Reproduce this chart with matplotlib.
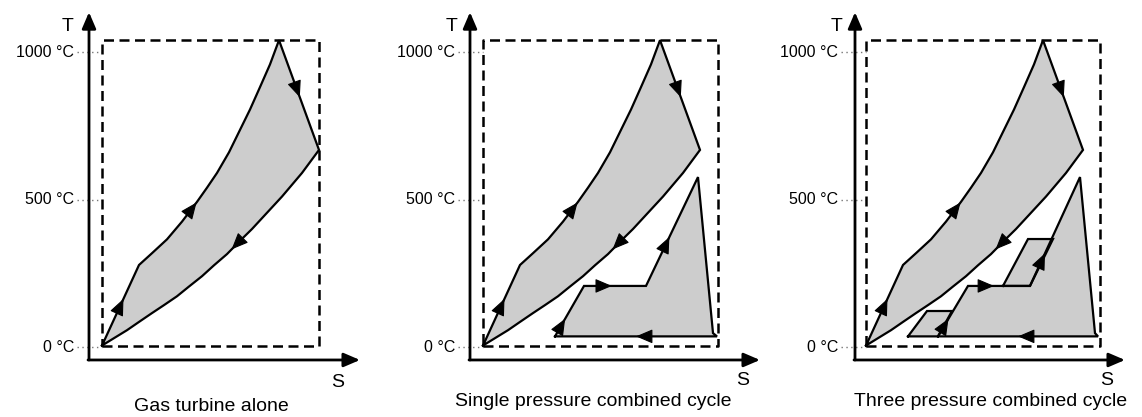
import matplotlib
matplotlib.use('Agg')
import matplotlib.pyplot as plt

# ---------------- data (s: entropy, arbitrary units; T: °C) ----------------
tick_values = [0, 500, 1000]
tick_labels = ['0 °C', '500 °C', '1000 °C']
panel_titles = ['Gas turbine alone', 'Single pressure combined cycle',
                'Three pressure combined cycle']

# Gas turbine (Brayton) cycle
comp_s = [0.00, 0.37]
comp_T = [5, 278]
heat_s = [0.37, 0.50, 0.65, 0.80, 0.95, 1.05, 1.15, 1.27, 1.38, 1.48, 1.58, 1.68, 1.77]
heat_T = [278, 318, 365, 425, 492, 540, 590, 660, 736, 805, 881, 958, 1040]
exp_s = [1.77, 2.17]
exp_T = [1040, 668]
cool_s = [2.17, 2.00, 1.80, 1.65, 1.50, 1.38, 1.25, 1.12, 1.00, 0.87, 0.75,
          0.62, 0.50, 0.37, 0.25, 0.12, 0.00]
cool_T = [668, 590, 510, 455, 400, 360, 315, 277, 240, 205, 172,
          142, 115, 85, 57, 30, 5]

# Single pressure steam cycle
sp_s = [0.72, 1.01, 1.63, 2.15, 2.30, 2.34]
sp_T = [36, 207, 207, 576, 47, 36]

# Three pressure steam cycle
hp_s = [0.72, 1.02, 1.64, 2.14, 2.29, 2.32]
hp_T = [36, 207, 207, 576, 47, 36]
lp_s = [0.42, 0.61, 0.86, 0.72]
lp_T = [36, 122, 122, 36]
ip_s = [1.37, 1.62, 1.87, 1.64]
ip_T = [207, 366, 366, 207]

# ---------------- styling / layout ----------------
plt.rcParams['font.family'] = ['Liberation Sans', 'DejaVu Sans']
W, H = 1142, 417
fig = plt.figure(figsize=(W / 100, H / 100), dpi=100)

FILL = '#cdcdcd'
LW = 1.6
T0_PX, PX_PER_DEG = 347, 0.295
T_BOTTOM = (T0_PX - H) / PX_PER_DEG
T_TOP = T0_PX / PX_PER_DEG

x0_px = [102, 483, 866]
box_right = [2.17, 2.35, 2.34]
yaxis_s = [-0.13, -0.13, -0.11]
xaxis_end = [2.58, 2.77, 2.59]
S_pos = [(2.36, -122), (2.60, -112), (2.41, -112)]
T_pos = [-0.34, -0.31, -0.29]
title_pos = [(1.09, -203), (1.10, -186), (1.25, -186)]


def arrow_on(ax, xs, ys, i, frac):
    x1, y1, x2, y2 = xs[i], ys[i], xs[i + 1], ys[i + 1]
    xh, yh = x1 + (x2 - x1) * frac, y1 + (y2 - y1) * frac
    ft = frac - 0.06
    xt, yt = x1 + (x2 - x1) * ft, y1 + (y2 - y1) * ft
    ax.annotate('', xy=(xh, yh), xytext=(xt, yt), annotation_clip=False,
                arrowprops=dict(arrowstyle='-|>,head_length=0.8,head_width=0.34',
                                color='black', lw=0.8, shrinkA=0, shrinkB=0,
                                mutation_scale=13), zorder=6)


def draw_poly(ax, xs, ys):
    ax.fill(xs, ys, color=FILL, zorder=2, clip_on=False, lw=0)
    ax.plot(list(xs) + [xs[0]], list(ys) + [ys[0]], color='black', lw=LW,
            zorder=4, clip_on=False, solid_joinstyle='miter')


for k in range(3):
    ax = fig.add_axes([(x0_px[k] - 110) / W, 0, 380 / W, 1])
    ax.set_xlim(-1.10, 2.70)
    ax.set_ylim(T_BOTTOM, T_TOP)
    ax.axis('off')

    # axes with arrows
    ax.annotate('', xy=(yaxis_s[k], 1135), xytext=(yaxis_s[k], -44),
                annotation_clip=False,
                arrowprops=dict(arrowstyle='-|>,head_length=0.7,head_width=0.3',
                                color='black', lw=2, shrinkA=0, shrinkB=0,
                                mutation_scale=14))
    ax.annotate('', xy=(xaxis_end[k], -44), xytext=(yaxis_s[k] - 0.01, -44),
                annotation_clip=False,
                arrowprops=dict(arrowstyle='-|>,head_length=0.7,head_width=0.3',
                                color='black', lw=2, shrinkA=0, shrinkB=0,
                                mutation_scale=14))

    # tick labels with dotted guides
    for v, lab in zip(tick_values, tick_labels):
        ax.plot([-0.25, 0.0], [v, v], ls=(0, (1, 2.5)), color='#777777', lw=1,
                clip_on=False, zorder=1)
        ax.text(-0.28, v, lab, ha='right', va='center', fontsize=11.5)

    ax.text(T_pos[k], 1085, 'T', ha='center', va='center', fontsize=14)
    ax.text(S_pos[k][0], S_pos[k][1], 'S', ha='center', va='center', fontsize=14)
    ax.text(title_pos[k][0], title_pos[k][1], panel_titles[k], ha='center',
            va='center', fontsize=14)

    # dashed bounding box
    bx = [0, box_right[k], box_right[k], 0, 0]
    by = [5, 5, 1040, 1040, 5]
    ax.plot(bx, by, color='black', lw=1.8, ls=(0, (4, 2.2)), zorder=3,
            clip_on=False)

    # gas cycle
    gas_s = comp_s + heat_s[1:] + exp_s[1:] + cool_s[1:-1]
    gas_T = comp_T + heat_T[1:] + exp_T[1:] + cool_T[1:-1]
    draw_poly(ax, gas_s, gas_T)
    arrow_on(ax, comp_s, comp_T, 0, 0.58)
    arrow_on(ax, heat_s, heat_T, 3, 0.97)
    arrow_on(ax, exp_s, exp_T, 0, 0.52)
    arrow_on(ax, cool_s, cool_T, 5, 0.65)

    if k == 1:
        draw_poly(ax, sp_s, sp_T)
        bot_s = [sp_s[-1], sp_s[0]]
        bot_T = [sp_T[-1], sp_T[0]]
        arrow_on(ax, bot_s, bot_T, 0, 0.50)
        arrow_on(ax, sp_s, sp_T, 0, 0.35)
        arrow_on(ax, sp_s, sp_T, 1, 0.45)
        arrow_on(ax, sp_s, sp_T, 2, 0.45)
    elif k == 2:
        draw_poly(ax, hp_s, hp_T)
        draw_poly(ax, lp_s, lp_T)
        draw_poly(ax, ip_s, ip_T)
        bot_s = [hp_s[-1], hp_s[0]]
        bot_T = [hp_T[-1], hp_T[0]]
        arrow_on(ax, bot_s, bot_T, 0, 0.50)
        arrow_on(ax, hp_s, hp_T, 0, 0.35)
        arrow_on(ax, hp_s, hp_T, 1, 0.42)
        arrow_on(ax, hp_s, hp_T, 2, 0.30)

fig.savefig('out.png', dpi=100)
